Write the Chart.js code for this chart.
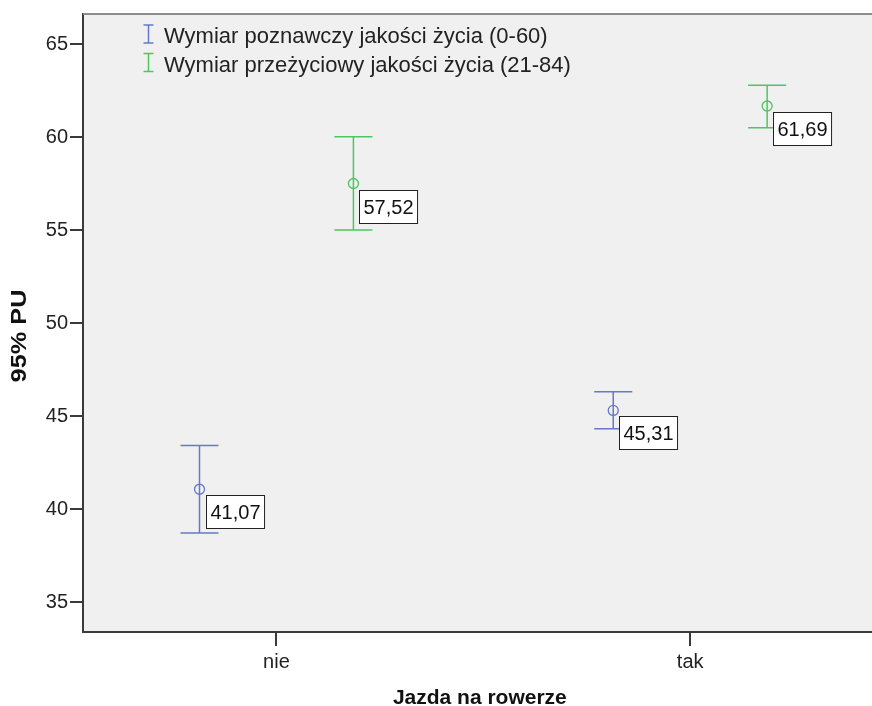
<!DOCTYPE html>
<html>
<head>
<meta charset="utf-8">
<script src="https://cdn.jsdelivr.net/npm/chart.js@4.4.1/dist/chart.umd.min.js"></script>
<style>
	html, body { margin: 0; padding: 0; background: #fff; overflow: hidden; }
	#wrap { width: 883px; height: 706px; }
</style>
</head>
<body>
<div id="wrap"><canvas id="chart" width="883" height="706"></canvas></div>
<script>
const categories = ['nie', 'tak'],
	seriesNames = ['Wymiar poznawczy jakości życia (0-60)', 'Wymiar przeżyciowy jakości życia (21-84)'],
	poznMean = [41.07, 45.31],
	poznLow = [38.71, 44.33],
	poznHigh = [43.42, 46.32],
	przezMean = [57.52, 61.69],
	przezLow = [55.02, 60.52],
	przezHigh = [60.03, 62.81],
	yTicks = [35, 40, 45, 50, 55, 60, 65]

const FONT = '"Liberation Sans", Arial, sans-serif',
	BLUE = '#6579c6',
	GREEN = '#4dc660',
	AXIS = '#3a3a3a',
	SHIFT = 0.186

const series = [
	{ name: seriesNames[0], mean: poznMean, low: poznLow, high: poznHigh, color: BLUE, shift: -SHIFT },
	{ name: seriesNames[1], mean: przezMean, low: przezLow, high: przezHigh, color: GREEN, shift: SHIFT },
]

const datasets = series.map(s => ({
	label: s.name,
	data: s.mean.map((v, i) => ({ x: i + s.shift, y: v })),
	borderColor: s.color,
	backgroundColor: 'rgba(0,0,0,0)',
	borderWidth: 1.3,
	pointRadius: 5,
	pointHoverRadius: 5,
	showLine: false,
}))

const framePlugin = {
	id: 'frame',
	beforeDraw(chart) {
		const { ctx, chartArea: a } = chart
		ctx.save()
		ctx.fillStyle = '#f0f0f0'
		ctx.fillRect(a.left, a.top, a.right - a.left, a.bottom - a.top)
		ctx.restore()
	},
	afterDraw(chart) {
		const { ctx, chartArea: a } = chart
		ctx.save()
		ctx.strokeStyle = '#8c8c8c'
		ctx.lineWidth = 2
		ctx.beginPath()
		ctx.moveTo(a.left, a.top)
		ctx.lineTo(a.right, a.top)
		ctx.stroke()
		// y axis title, stretched a little along its length like the original
		ctx.translate(20, 336)
		ctx.rotate(-Math.PI / 2)
		ctx.scale(1.15, 1)
		ctx.font = 'bold 22px ' + FONT
		ctx.fillStyle = '#111'
		ctx.textAlign = 'center'
		ctx.textBaseline = 'middle'
		ctx.fillText('95% PU', 0, 0)
		ctx.restore()
	},
}

const errorBarPlugin = {
	id: 'errorBars',
	beforeDatasetsDraw(chart) {
		const { ctx, scales: { x, y } } = chart
		ctx.save()
		ctx.lineWidth = 1.5
		series.forEach(s => {
			ctx.strokeStyle = s.color
			s.mean.forEach((v, i) => {
				const px = x.getPixelForValue(i + s.shift),
					top = y.getPixelForValue(s.high[i]),
					bot = y.getPixelForValue(s.low[i])
				ctx.beginPath()
				ctx.moveTo(px, top)
				ctx.lineTo(px, bot)
				ctx.moveTo(px - 19, top)
				ctx.lineTo(px + 19, top)
				ctx.moveTo(px - 19, bot)
				ctx.lineTo(px + 19, bot)
				ctx.stroke()
			})
		})
		ctx.restore()
	},
	afterDatasetsDraw(chart) {
		const { ctx, scales: { x, y } } = chart
		ctx.save()
		ctx.font = '20px ' + FONT
		ctx.textBaseline = 'middle'
		series.forEach(s => {
			s.mean.forEach((v, i) => {
				const txt = v.toFixed(2).replace('.', ','),
					px = x.getPixelForValue(i + s.shift),
					py = y.getPixelForValue(v),
					w = ctx.measureText(txt).width + 8,
					h = 33,
					bx = Math.round(px + 6) + 0.5,
					by = Math.round(py + 6) + 0.5
				ctx.fillStyle = '#fff'
				ctx.fillRect(bx, by, w, h)
				ctx.strokeStyle = '#222'
				ctx.lineWidth = 1
				ctx.strokeRect(bx, by, w, h)
				ctx.fillStyle = '#111'
				ctx.fillText(txt, bx + 4, by + h / 2 + 1)
			})
		})
		ctx.restore()
	},
}

const legendPlugin = {
	id: 'errLegend',
	afterDraw(chart) {
		const ctx = chart.ctx
		ctx.save()
		ctx.font = '22px ' + FONT
		ctx.textBaseline = 'middle'
		series.forEach((s, i) => {
			const cy = 34 + i * 28.5,
				cx = 148.5
			ctx.strokeStyle = s.color
			ctx.lineWidth = 1.5
			ctx.beginPath()
			ctx.moveTo(cx, cy - 9)
			ctx.lineTo(cx, cy + 9)
			ctx.moveTo(cx - 5, cy - 9)
			ctx.lineTo(cx + 5, cy - 9)
			ctx.moveTo(cx - 5, cy + 9)
			ctx.lineTo(cx + 5, cy + 9)
			ctx.stroke()
			ctx.fillStyle = '#222'
			ctx.fillText(s.name, 164, cy + 3)
		})
		ctx.restore()
	},
}

new Chart(document.getElementById('chart'), {
	type: 'scatter',
	data: { datasets },
	plugins: [framePlugin, errorBarPlugin, legendPlugin],
	options: {
		responsive: false,
		animation: false,
		layout: { padding: { left: 40, top: 13, right: 0, bottom: 0 } },
		plugins: { legend: { display: false }, tooltip: { enabled: false } },
		scales: {
			x: {
				type: 'linear',
				min: -0.4676,
				max: 1.4508,
				afterFit: scale => { scale.height = 74 },
				afterBuildTicks: scale => { scale.ticks = categories.map((c, i) => ({ value: i })) },
				ticks: {
					callback: v => categories[v],
					color: '#222',
					font: { family: FONT, size: 20 },
					padding: 4,
					maxRotation: 0,
				},
				grid: { drawOnChartArea: false, drawTicks: true, tickLength: 14, color: AXIS, lineWidth: 2 },
				border: { color: AXIS, width: 2 },
				title: {
					display: true,
					text: 'Jazda na rowerze',
					color: '#111',
					font: { family: FONT, size: 21, weight: 'bold', lineHeight: 1 },
					padding: { top: 0, bottom: -3 },
				},
			},
			y: {
				min: 33.39,
				max: 66.64,
				afterFit: scale => { scale.width = 43 },
				afterBuildTicks: scale => { scale.ticks = yTicks.map(v => ({ value: v })) },
				ticks: {
					color: '#222',
					font: { family: FONT, size: 20 },
					padding: 2,
				},
				grid: { drawOnChartArea: false, drawTicks: true, tickLength: 13, color: AXIS, lineWidth: 2 },
				border: { color: AXIS, width: 2 },
			},
		},
	},
})
</script>
</body>
</html>
